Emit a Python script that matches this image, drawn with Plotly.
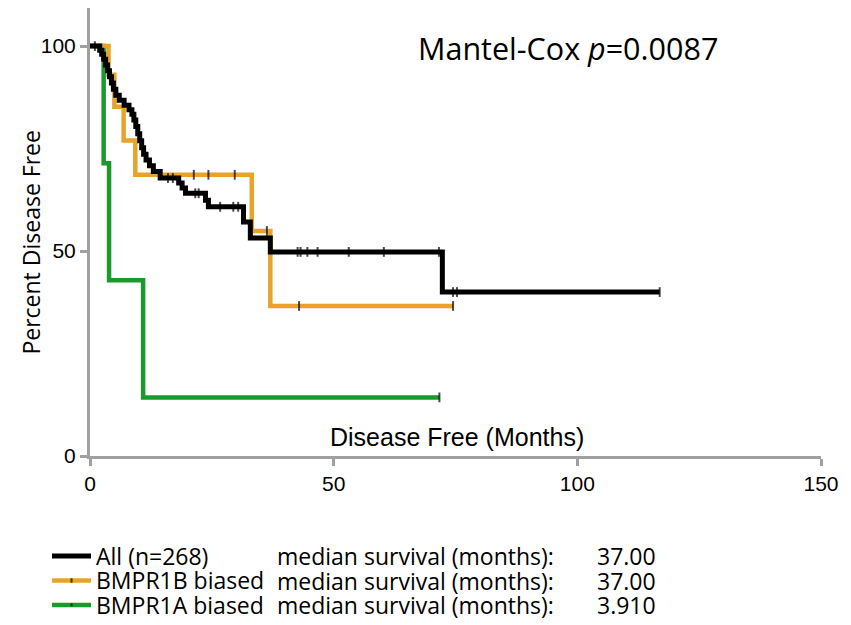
import plotly.graph_objects as go

# ---- data ----
# All (n=268): event steps (time in months, percent disease free after the step)
all_t = [0, 2.0, 2.4, 2.8, 3.2, 3.6, 4.0, 4.4, 4.8, 5.3, 6.0, 7.0, 8.0, 8.6, 9.0, 9.4,
         9.8, 10.2, 10.6, 11.0, 11.5, 12.2, 13.0, 14.4, 18.2, 18.9, 19.6, 23.7, 24.3,
         31.5, 32.9, 37.0, 72.3]
all_s = [100, 99.0, 98.0, 96.8, 95.4, 94.0, 92.5, 91.0, 89.5, 88.0, 86.8, 85.6, 84.5,
         83.4, 82.0, 80.4, 78.6, 76.9, 75.2, 73.6, 72.2, 70.8, 69.4, 67.8, 66.6, 65.4,
         64.1, 62.4, 60.8, 57.1, 53.2, 49.8, 40.0]
all_cens_t = [1.0, 16.0, 17.0, 21.6, 22.3, 26.7, 29.4, 30.4, 42.6, 43.2, 44.6, 46.7,
              53.1, 60.3, 71.6, 74.5, 75.3, 116.9]

# BMPR1B biased
b_t = [0, 3.8, 5.0, 6.9, 9.3, 33.2, 37.0]
b_s = [100, 93.0, 85.2, 77.0, 68.6, 54.9, 36.6]
b_cens_t = [21.3, 24.3, 29.7, 36.3, 42.9, 74.5]

# BMPR1A biased
a_t = [0, 2.8, 3.91, 10.9]
a_s = [100, 71.4, 42.9, 14.3]
a_cens_t = [71.7]

names = ["All (n=268)", "BMPR1B biased", "BMPR1A biased"]
medians = ["37.00", "37.00", "3.910"]
colors = ["#000000", "#E8A32A", "#1B9A2B"]

x_ticks = [0, 50, 100, 150]
y_ticks = [0, 50, 100]


def km_points(ev_t, ev_s, cens_t):
    """Merge event steps and censor times into one step path."""
    pts = [(t, s, 0) for t, s in zip(ev_t, ev_s)]
    for ct in cens_t:
        val = ev_s[0]
        for t, s in zip(ev_t, ev_s):
            if t <= ct:
                val = s
        pts.append((ct, val, 1))
    pts.sort(key=lambda p: (p[0], -p[2]))
    xs = [p[0] for p in pts]
    ys = [p[1] for p in pts]
    sz = [7 if p[2] else 0 for p in pts]
    return xs, ys, sz


# page body adds an 8px offset; the figure is sized to fit the window
OFF = 8
W, H = 851 - OFF, 625 - OFF
L, R, T, B = 89.5 - OFF, 29.5, 0, 169
PW, PH = W - L - R, H - T - B


def px(sx):  # screen x -> paper x
    return (sx - OFF - L) / PW


def py(sy):  # screen y -> paper y
    return (H - B - (sy - OFF)) / PH


fig = go.Figure()
legend_ids = ["legend", "legend2", "legend3"]
series = [
    (a_t, a_s, a_cens_t, 2, 4.5),
    (b_t, b_s, b_cens_t, 1, 4.5),
    (all_t, all_s, all_cens_t, 0, 5),
]
for ev_t, ev_s, cens_t, idx, lw in series:
    xs, ys, sz = km_points(ev_t, ev_s, cens_t)
    fig.add_trace(go.Scatter(
        x=xs, y=ys, mode="lines+markers", name=names[idx],
        line=dict(color=colors[idx], width=lw, shape="hv"),
        marker=dict(symbol="line-ns-open", size=sz, color="black",
                    line=dict(width=2, color="black")),
        legend=legend_ids[idx],
        hoverinfo="skip",
    ))

axis_gray = "#A0A0A0"
row_y = [556, 580.5, 605]

layout = dict(
    width=W, height=H,
    margin=dict(l=L, r=R, t=T, b=B, autoexpand=False),
    paper_bgcolor="white", plot_bgcolor="white",
    font=dict(family="Liberation Sans", size=21, color="black"),
    showlegend=True,
    xaxis=dict(range=[0, 150], tickvals=x_ticks, showline=True, linecolor=axis_gray,
               linewidth=3, ticks="outside", ticklen=7, tickwidth=2.5,
               tickcolor=axis_gray, showgrid=False, zeroline=False, automargin=False,
               tickfont=dict(family="Liberation Sans", size=21)),
    yaxis=dict(range=[0, 109.3], tickvals=y_ticks, showline=True, linecolor=axis_gray,
               linewidth=3, ticks="outside", ticklen=7, tickwidth=2.5,
               tickcolor=axis_gray, showgrid=False, zeroline=False, automargin=False,
               tickfont=dict(family="Liberation Sans", size=21)),
)
for i, lid in enumerate(legend_ids):
    layout[lid] = dict(x=(47 - OFF) / W, y=1 - (row_y[i] - OFF) / H,
                       xref="container", yref="container",
                       xanchor="left", yanchor="middle", itemwidth=39,
                       font=dict(family="Open Sans", size=23),
                       bgcolor="rgba(0,0,0,0)", borderwidth=0, itemsizing="trace")
fig.update_layout(**layout)

ann = []
ann.append(dict(text="Percent Disease Free", xref="paper", yref="paper",
                x=px(30), y=py(243), xanchor="center", yanchor="middle", textangle=-90,
                showarrow=False, font=dict(family="Open Sans", size=23)))
ann.append(dict(text="Mantel-Cox <i>p</i>=0.0087", xref="paper", yref="paper",
                x=px(568), y=py(48), xanchor="center", yanchor="middle",
                showarrow=False, font=dict(family="Open Sans", size=30.5)))
ann.append(dict(text="Disease Free (Months)", xref="paper", yref="paper",
                x=px(457), y=py(437), xanchor="center", yanchor="middle",
                showarrow=False, font=dict(family="Liberation Sans", size=25)))
for i in range(3):
    ann.append(dict(text="median survival (months):", xref="paper", yref="paper",
                    x=px(275), y=py(row_y[i]), xanchor="left", yanchor="middle",
                    showarrow=False, font=dict(family="Open Sans", size=23)))
    ann.append(dict(text=medians[i], xref="paper", yref="paper",
                    x=px(595), y=py(row_y[i]), xanchor="left", yanchor="middle",
                    showarrow=False, font=dict(family="Open Sans", size=23)))
fig.update_layout(annotations=ann)

fig.write_html("out.html")
